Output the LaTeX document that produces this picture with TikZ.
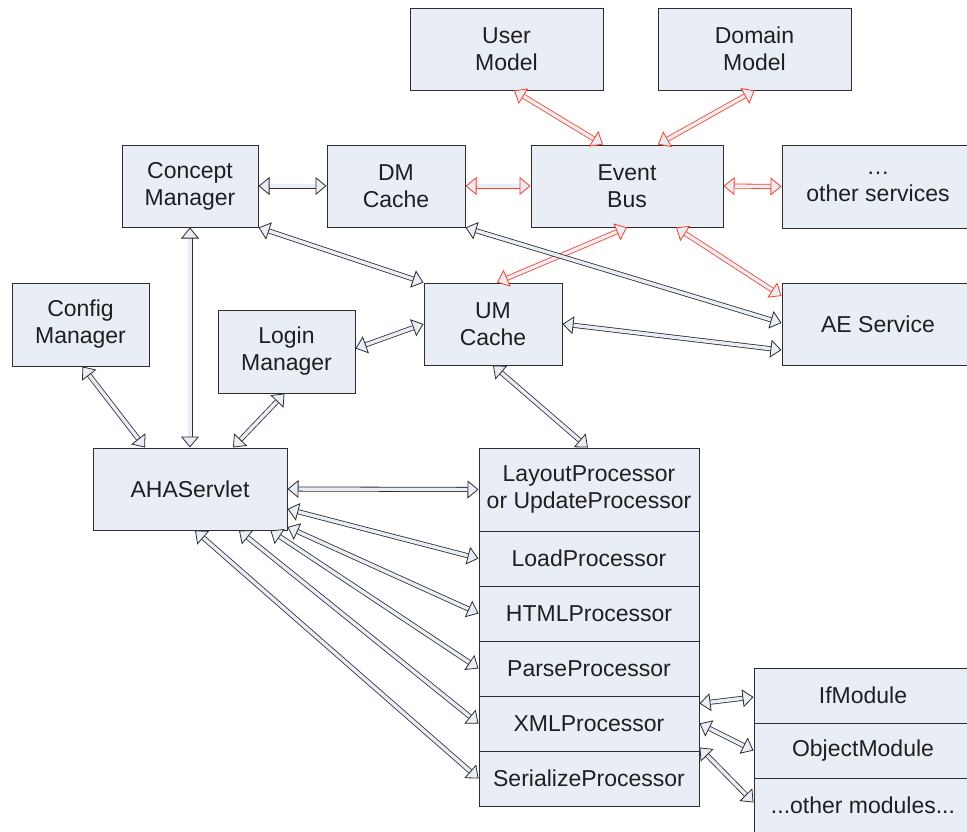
\documentclass[tikz,border=0pt]{standalone}
\usepackage{fontspec}
\setmainfont{Liberation Sans}
\usetikzlibrary{arrows.meta}
\definecolor{boxfill}{RGB}{233,237,246}
\definecolor{busred}{RGB}{255,62,32}
\definecolor{edge}{RGB}{45,45,45}
\begin{document}
\begin{tikzpicture}[x=1pt,y=-1pt,
    box/.style args={#1/#2}{draw=edge, line width=1pt, fill=boxfill, inner sep=0pt,
      minimum width=#1pt, minimum height=#2pt, align=center,
      font=\fontsize{23}{27}\selectfont, text=black!88},
    link/.style={draw=edge, line width=0.8pt, double=boxfill, double distance=3.4pt,
      {Triangle[open,fill=boxfill,line width=0.8pt,length=11pt,width=18pt]}-{Triangle[open,fill=boxfill,line width=0.8pt,length=11pt,width=18pt]}},
    buslink/.style={link, draw=busred}]
    \clip (0,0) rectangle (967,831);
    % services round the bus
    \node[box=193/82] (user) at (506.5,49) {User\\Model};
    \node[box=193/82] (domain) at (754.5,49) {Domain\\Model};
    \node[box=136/82] (concept) at (190,186) {Concept\\Manager};
    \node[box=138/82] (dmcache) at (396,186) {DM\\Cache};
    \node[box=192/82] (bus) at (627,186) {Event\\Bus};
    \node[box=192/83] (others) at (878,186.5) {\ldots\\other services};
    \node[box=137/83] (config) at (80.5,324.5) {Config\\Manager};
    \node[box=137/83] (login) at (286.5,351.5) {Login\\Manager};
    \node[box=138/82] (umcache) at (493,324) {UM\\Cache};
    \node[box=192/82] (ae) at (878,324) {AE Service};
    \node[box=194/82] (aha) at (190,489) {AHAServlet};
    % processor stack
    \node[box=220/83] (layout) at (589,489.5) {LayoutProcessor\\or UpdateProcessor};
    \node[box=220/55] (load) at (589,558.5) {LoadProcessor};
    \node[box=220/55] (html) at (589,613.5) {HTMLProcessor};
    \node[box=220/55] (parse) at (589,668.5) {ParseProcessor};
    \node[box=220/55] (xml) at (589,723.5) {XMLProcessor};
    \node[box=220/55] (serial) at (589,778.5) {SerializeProcessor};
    % modules
    \node[box=218/55] (ifmod) at (863,695.5) {IfModule};
    \node[box=218/55] (objmod) at (863,750.5) {ObjectModule};
    \node[box=218/55] (othermod) at (863,805.5) {...other modules...};

    \draw[buslink] ([xshift=7.5pt]user.south) -- ([xshift=-24pt]bus.north);
    \draw[buslink] (domain.south) -- ([xshift=31pt]bus.north);
    \draw[buslink] (dmcache.east) -- (bus.west);
    \draw[buslink] (bus.east) -- (others.west);
    \draw[buslink] (bus.south) -- ([xshift=4pt]umcache.north);
    \draw[buslink] ([xshift=49pt]bus.south) -- ([yshift=28pt]ae.west);

    \draw[link] (concept.east) -- (dmcache.west);
    \draw[link] (concept.south east) -- (umcache.north west);
    \draw[link] (dmcache.south east) -- ([yshift=1pt]ae.west);
    \draw[link] (umcache.east) -- ([yshift=-26pt]ae.west);
    \draw[link] ([yshift=3pt]login.east) -- (umcache.west);
    \draw[link] (concept.south) -- (aha.north);
    \draw[link] ([xshift=2pt]config.south) -- ([xshift=-45pt]aha.north);
    \draw[link] ([xshift=-2pt]login.south) -- ([xshift=43pt]aha.north);
    \draw[link] (umcache.south) -- ([xshift=-1pt]layout.north);

    \draw[link] (aha.east) -- (layout.west);
    \draw[link] ([yshift=-20pt]aha.east) -- (load.west);
    \draw[link] ([yshift=-38pt]aha.east) -- (html.west);
    \draw[link] ([xshift=-17pt]aha.south east) -- (parse.west);
    \draw[link] ([xshift=49pt]aha.south) -- (xml.west);
    \draw[link] ([xshift=5pt]aha.south) -- (serial.west);

    \draw[link] ([yshift=20pt]xml.east) -- ([yshift=-1.5pt]ifmod.west);
    \draw[link] (xml.east) -- (objmod.west);
    \draw[link] ([yshift=-24pt]xml.east) -- ([yshift=3pt]othermod.west);
\end{tikzpicture}
\end{document}
